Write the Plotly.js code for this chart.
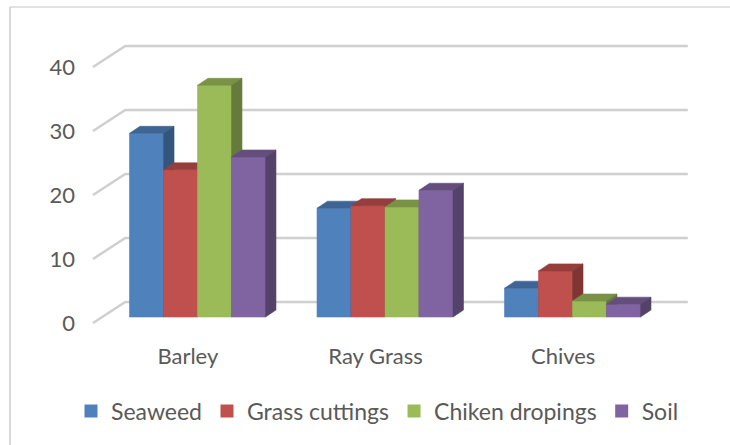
<!DOCTYPE html>
<html>
<head>
<meta charset="utf-8">
<script src="https://cdn.plot.ly/plotly-3.0.1.min.js"></script>
<style>html,body{margin:0;padding:0;background:#fff}#chart{width:730px;height:445px}</style>
</head>
<body>
<div id="chart"></div>
<script>
// ---- data ----
const categories = ['Barley', 'Ray Grass', 'Chives'];
const seriesNames = ['Seaweed', 'Grass cuttings', 'Chiken dropings', 'Soil'];
const seaweed = [28.7, 17.0, 4.5];
const grassCuttings = [23.0, 17.4, 7.2];
const chikenDropings = [36.2, 17.2, 2.5];
const soil = [25.0, 19.8, 2.0];
const yTicks = [0, 10, 20, 30, 40];

// ---- styles / geometry ----
const W = 730, H = 445;
const frontColors = ['#4F81BD', '#C0504D', '#9BBB59', '#8064A2'];
const textColor = '#595959';
const fontFam = 'Lato, Calibri, Carlito, sans-serif';
const seriesValues = [seaweed, grassCuttings, chikenDropings, soil];

function shade(hex, f) {
  const n = parseInt(hex.slice(1), 16);
  const r = Math.round(((n >> 16) & 255) * f), g = Math.round(((n >> 8) & 255) * f), b = Math.round((n & 255) * f);
  return 'rgb(' + r + ',' + g + ',' + b + ')';
}

// bar plane (pixel geometry of layout)
const barLeftPx = 103.75, pxPerCat = 187.5, barZeroPx = 317, pxPerUnit = 6.4;
const barDomPx = [78, 700], barDomPyTop = 38, barDomPyBot = 332;
const xr2 = [-0.5 + (barDomPx[0] - barLeftPx) / pxPerCat, -0.5 + (barDomPx[1] - barLeftPx) / pxPerCat];
const yr2 = [(barZeroPx - barDomPyBot) / pxPerUnit, (barZeroPx - barDomPyTop) / pxPerUnit];

// 3D offsets (in bar-plane units)
const groupWidth = 0.725, barW = groupWidth / 4;
const depthX = 10.5 / pxPerCat, depthY = 7 / pxPerUnit;
const backDX = 21.5 / pxPerCat, backDY = 15 / pxPerUnit;
const frontDX = -10.75 / pxPerCat, frontDY = -6 / pxPerUnit;

const traces = [];

// legend entries (front plane subplot)
seriesNames.forEach((name, i) => {
  traces.push({
    type: 'scatter', mode: 'markers', x: [null], y: [null], name: name,
    marker: {symbol: 'square', size: 13, color: frontColors[i]},
    xaxis: 'x', yaxis: 'y', hoverinfo: 'skip'
  });
});

// gridlines on the walls
yTicks.forEach(t => {
  traces.push({
    type: 'scatter', mode: 'lines', xaxis: 'x2', yaxis: 'y2', showlegend: false, hoverinfo: 'skip',
    x: [-0.5 + frontDX, -0.5 + backDX, 2.5 + backDX],
    y: [t + frontDY, t + backDY, t + backDY],
    line: {color: '#cfcfcf', width: 2.5}
  });
});

// 3D bars
categories.forEach((cat, c) => {
  seriesValues.forEach((vals, s) => {
    const v = vals[c];
    const x0 = c - groupWidth / 2 + s * barW, x1 = x0 + barW;
    const faces = [
      {x: [x0, x1, x1, x0, x0], y: [0, 0, v, v, 0], col: frontColors[s]},
      {x: [x0, x1, x1 + depthX, x0 + depthX, x0], y: [v, v, v + depthY, v + depthY, v], col: shade(frontColors[s], 0.78)},
      {x: [x1, x1 + depthX, x1 + depthX, x1, x1], y: [0, depthY, v + depthY, v, 0], col: shade(frontColors[s], 0.66)}
    ];
    faces.forEach(f => {
      traces.push({
        type: 'scatter', mode: 'lines', fill: 'toself', xaxis: 'x2', yaxis: 'y2',
        x: f.x, y: f.y, fillcolor: f.col, line: {color: f.col, width: 0.6},
        showlegend: false, hoverinfo: 'skip', name: seriesNames[s] + ' ' + cat
      });
    });
  });
});

const layout = {
  width: W, height: H,
  margin: {l: 0, r: 0, t: 0, b: 0, autoexpand: false},
  paper_bgcolor: '#ffffff', plot_bgcolor: 'rgba(0,0,0,0)',
  showlegend: true,
  font: {family: fontFam, color: textColor, size: 22},
  xaxis: {
    domain: [94 / W, 657 / W], range: [-0.5, 2.5], anchor: 'y',
    tickvals: [0, 1, 2], ticktext: categories, showgrid: false, zeroline: false, showline: false,
    ticks: '', ticklabelstandoff: 18, tickfont: {size: 22, color: textColor, family: fontFam}, fixedrange: true
  },
  yaxis: {
    domain: [(H - 323) / H, (H - 67) / H], range: [0, 40], anchor: 'x',
    tickvals: yTicks, showgrid: false, zeroline: false, showline: false,
    ticks: '', ticklabelstandoff: 18, tickfont: {size: 22, color: textColor, family: fontFam}, fixedrange: true
  },
  xaxis2: {domain: [barDomPx[0] / W, barDomPx[1] / W], range: xr2, anchor: 'y2', visible: false, fixedrange: true},
  yaxis2: {domain: [(H - barDomPyBot) / H, (H - barDomPyTop) / H], range: yr2, anchor: 'x2', visible: false, fixedrange: true},
  legend: {
    orientation: 'h', x: 71 / W, xanchor: 'left', y: (H - 411) / H, yanchor: 'middle',
    font: {size: 23, color: textColor, family: fontFam}, bgcolor: 'rgba(0,0,0,0)',
    itemclick: false, itemdoubleclick: false
  },
  shapes: [
    {type: 'line', xref: 'paper', yref: 'paper', x0: 10 / W, x1: 10 / W, y0: 0, y1: (H - 7) / H, line: {color: '#d9d9d9', width: 2}},
    {type: 'line', xref: 'paper', yref: 'paper', x0: 10 / W, x1: 1, y0: (H - 7) / H, y1: (H - 7) / H, line: {color: '#d9d9d9', width: 1.5}}
  ]
};

Plotly.newPlot('chart', traces, layout, {displayModeBar: false, staticPlot: true});
</script>
</body>
</html>
